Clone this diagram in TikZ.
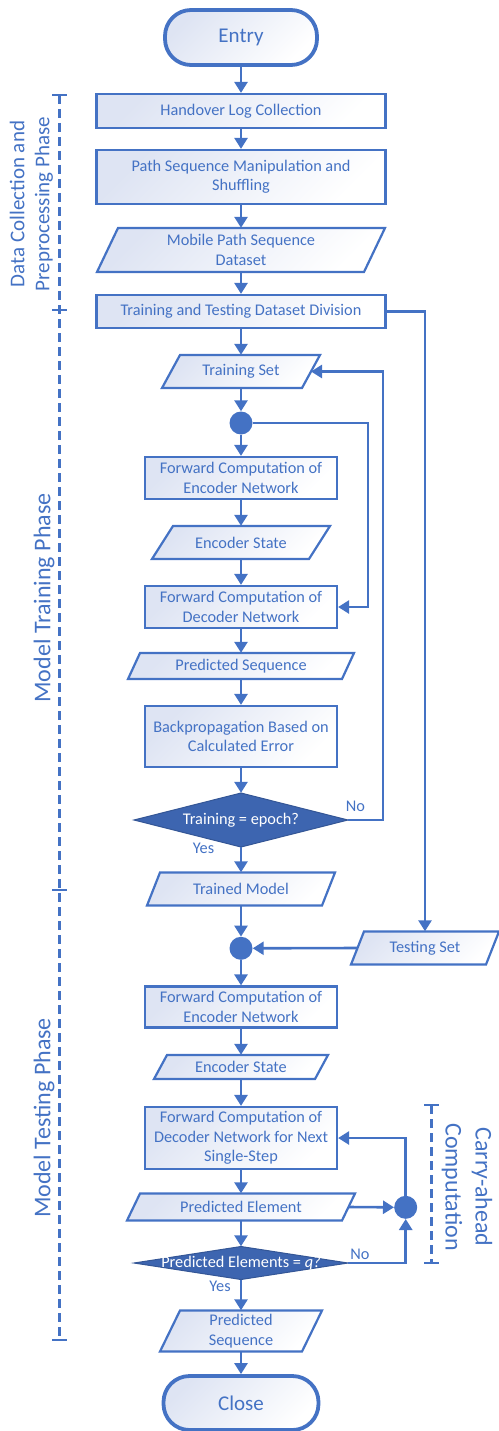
\documentclass[tikz,border=0pt]{standalone}
\usepackage{fontspec}
\setmainfont{Carlito}
\usetikzlibrary{arrows.meta,calc}
\definecolor{mainblue}{RGB}{68,114,196}
\definecolor{darkblue}{RGB}{61,101,176}
\definecolor{lightfill}{RGB}{222,228,243}
\tikzset{
  conn/.style={draw=mainblue, line width=2.6pt, -{Triangle[width=13pt,length=11pt]}},
  box/.style={draw=mainblue, line width=2.2pt, top color=lightfill, bottom color=white, shading angle=45, text=mainblue, font=\fontsize{16.3}{19.3}\selectfont, align=center, inner sep=0pt},
  terminal/.style={box, line width=3.8pt, rounded corners=26pt, font=\fontsize{21}{25}\selectfont},
  shapefill/.style={draw=mainblue, line width=2.2pt, top color=lightfill, bottom color=white, shading angle=45},
  txt/.style={text=mainblue, font=\fontsize{16.3}{19.3}\selectfont, align=center, inner sep=0pt},
  dot/.style={circle, fill=mainblue, minimum size=23pt, inner sep=0pt},
  diamondfill/.style={fill=darkblue, draw=darkblue!85!black, line width=1pt},
  dtext/.style={text=white, font=\fontsize{16.3}{19.3}\selectfont, inner sep=0pt},
  phase/.style={text=mainblue, font=\fontsize{24}{30}\selectfont, align=center, inner sep=0pt},
  bracket/.style={draw=mainblue, line width=2.6pt, dash pattern=on 9pt off 5pt},
  tick/.style={draw=mainblue, line width=2.6pt},
}
\newcommand\pgram[7]{%
  \path[shapefill] ({#2-#4/2+#6},{#3-#5/2}) -- ({#2+#4/2},{#3-#5/2}) -- ({#2+#4/2-#6},{#3+#5/2}) -- ({#2-#4/2},{#3+#5/2}) -- cycle;
  \node[txt, minimum width=#4pt, minimum height=#5pt] (#1) at (#2,#3) {#7};
}
\newcommand\decision[6]{%
  \path[diamondfill] ({#2-#4/2},#3) -- (#2,{#3-#5/2}) -- ({#2+#4/2},#3) -- (#2,{#3+#5/2}) -- cycle;
  \node[dtext, minimum width=#4pt, minimum height=#5pt] (#1) at (#2,#3) {#6};
}
\begin{document}
\begin{tikzpicture}[x=1pt, y=-1pt]
\useasboundingbox (0,0) rectangle (498,1431);

% terminals and boxes
\node[terminal, minimum width=152pt, minimum height=55pt] (entry) at (241,37.5) {Entry};
\node[box, minimum width=289pt, minimum height=34pt] (hlc) at (241,111) {Handover Log Collection};
\node[box, minimum width=289pt, minimum height=54pt] (psm) at (241,177) {Path Sequence Manipulation and\\Shuffling};
\pgram{mps}{241}{250}{288}{44}{21}{Mobile Path Sequence\\Dataset}
\node[box, minimum width=289pt, minimum height=33pt] (ttd) at (241,311.5) {Training and Testing Dataset Division};
\pgram{trs}{241}{371.5}{158}{33}{18}{Training Set}
\node[dot] (c1) at (241,423) {};
\node[box, minimum width=192pt, minimum height=42pt] (fce1) at (241,478) {Forward Computation of\\Encoder Network};
\pgram{es1}{241}{542.5}{178}{33}{21}{Encoder State}
\node[box, minimum width=192pt, minimum height=42pt] (fcd1) at (241,607) {Forward Computation of\\Decoder Network};
\pgram{ps1}{241}{666}{226}{26}{12}{Predicted Sequence}
\node[box, minimum width=192pt, minimum height=61pt] (bp) at (241,736.5) {Backpropagation Based on\\Calculated Error};
\decision{d1}{241}{820}{214}{54}{Training = epoch?}
\pgram{tm}{241}{889}{188}{33}{13}{Trained Model}
\node[dot] (c2) at (241,948.3) {};
\pgram{ts}{425}{948}{148}{33}{13}{Testing Set}
\node[box, minimum width=192pt, minimum height=41pt] (fce2) at (241,1007) {Forward Computation of\\Encoder Network};
\pgram{es2}{241}{1067}{174}{24}{13}{Encoder State}
\node[box, minimum width=192pt, minimum height=62pt] (fcd2) at (241,1138) {Forward Computation of\\Decoder Network for Next\\Single-Step};
\pgram{pe}{241}{1207}{228}{27}{13}{Predicted Element}
\node[dot] (c3) at (405.7,1207.3) {};
\decision{d2}{241}{1263}{214}{33}{Predicted Elements = \textit{q?}}
\pgram{ps2}{241}{1331}{162}{41}{20}{Predicted\\Sequence}
\node[terminal, minimum width=155pt, minimum height=54pt] (close) at (241,1403) {Close};

% edge anchor coordinates
\coordinate (trsR) at (311,371.5);
\coordinate (tsL) at (357.5,948);
\coordinate (peR) at (348.5,1207);

% main flow
\draw[conn] (entry.south) -- (hlc.north);
\draw[conn] (hlc.south) -- (psm.north);
\draw[conn] (psm.south) -- (mps.north);
\draw[conn] (mps.south) -- (ttd.north);
\draw[conn] (ttd.south) -- (trs.north);
\draw[conn] (trs.south) -- (c1.north);
\draw[conn] (c1.south) -- (fce1.north);
\draw[conn] (fce1.south) -- (es1.north);
\draw[conn] (es1.south) -- (fcd1.north);
\draw[conn] (fcd1.south) -- (ps1.north);
\draw[conn] (ps1.south) -- (bp.north);
\draw[conn] (bp.south) -- (d1.north);
\draw[conn] (d1.south) -- (tm.north);
\draw[conn] (tm.south) -- (c2.north);
\draw[conn] (c2.south) -- (fce2.north);
\draw[conn] (fce2.south) -- (es2.north);
\draw[conn] (es2.south) -- (fcd2.north);
\draw[conn] (fcd2.south) -- (pe.north);
\draw[conn] (pe.south) -- (d2.north);
\draw[conn] (d2.south) -- (ps2.north);
\draw[conn] (ps2.south) -- (close.north);

% side connectors
\draw[conn] (ttd.east) -| (ts.north);
\draw[conn] (c1.east) -- (368,423) |- (fcd1.east);
\draw[conn] (d1.east) -- (383,820) |- (trsR);
\draw[conn] (tsL) -- (c2.east);
\draw[conn] (peR) -- (c3.west);
\draw[conn] (c3.north) |- (fcd2.east);
\draw[conn] (d2.east) -| (c3.south);

% labels
\node[txt] (no1) at (355.5,806) {No};
\node[txt] (yes1) at (203.5,848) {Yes};
\node[txt] (no2) at (360,1254) {No};
\node[txt] (yes2) at (220,1286) {Yes};

% phase brackets
\draw[bracket] (59.3,95) -- (59.3,1340);
\draw[tick] (52,95) -- (67,95);
\draw[tick] (52,310) -- (67,310);
\draw[tick] (52,890) -- (67,890);
\draw[tick] (52,1340) -- (67,1340);
\draw[bracket] (431.7,1105) -- (431.7,1263);
\draw[tick] (424,1105) -- (439,1105);
\draw[tick] (424,1263) -- (439,1263);

\node[phase, font=\fontsize{21}{25}\selectfont, rotate=90] (ph1) at (31.5,204) {Data Collection and\\Preprocessing Phase};
\node[phase, rotate=90] (ph2) at (44,598) {Model Training Phase};
\node[phase, rotate=90] (ph3) at (44,1118) {Model Testing Phase};
\node[phase, rotate=-90] (ph4) at (467,1187) {Carry-ahead\\Computation};
\end{tikzpicture}
\end{document}
